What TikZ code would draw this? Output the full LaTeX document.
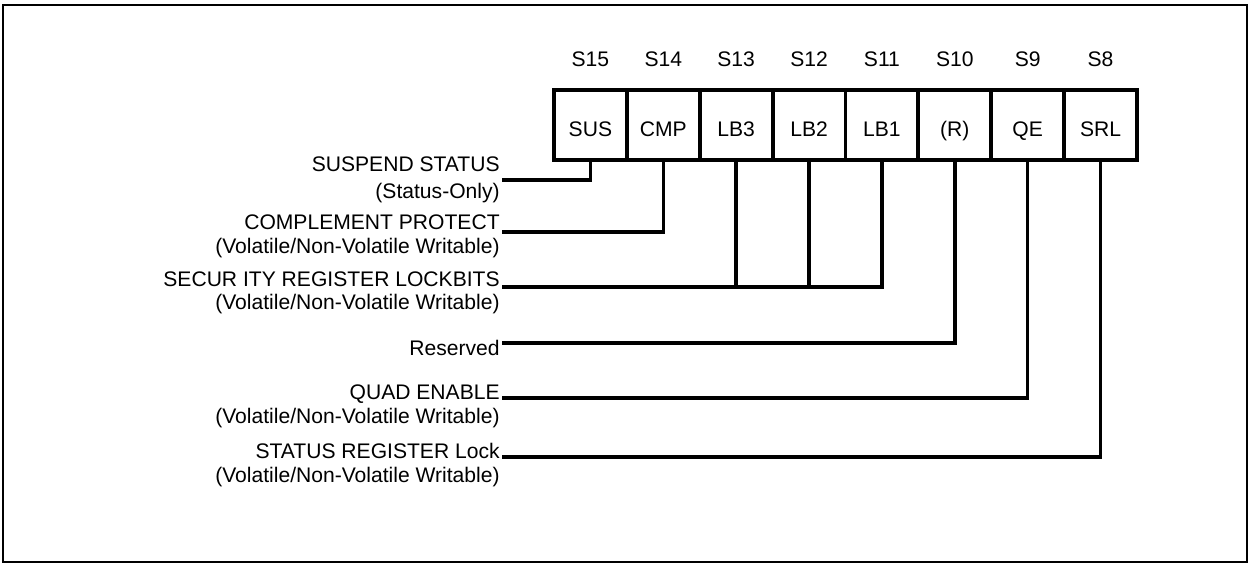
\documentclass[tikz,border=0pt]{standalone}
\usepackage{fontspec}
\setmainfont{Liberation Sans}
\begin{document}
\begin{tikzpicture}[x=0.02cm,y=-0.02cm,
  bitbox/.style={draw,line width=2.2pt,minimum width=1.458cm,minimum height=1.4cm,
    inner sep=0pt,text height=0.46cm,text depth=0pt,font=\fontsize{12}{14}\selectfont},
  bitnum/.style={inner sep=0pt,font=\fontsize{12}{14}\selectfont},
  lbl/.style={inner sep=0pt,anchor=base east,font=\fontsize{12}{14}\selectfont},
  wire/.style={line width=2pt}]
  \useasboundingbox (0,0) rectangle (1250,564);
  \draw[line width=0.9pt] (3,5) rectangle (1247,562);

  \foreach \name/\num [count=\i from 0] in {SUS/15,CMP/14,LB3/13,LB2/12,LB1/11,{(R)}/10,QE/9,SRL/8} {
    \node[bitbox] (b\num) at ({590.4+72.875*\i},125) {\name};
    \node[bitnum] (n\num) at ({590.4+72.875*\i},59) {S\num};
  }

  \coordinate (wSUS) at (502,180);
  \coordinate (wCMP) at (502,232);
  \coordinate (wLB) at (502,287);
  \coordinate (wR) at (502,343);
  \coordinate (wQE) at (502,398);
  \coordinate (wSRL) at (502,457);

  \node[lbl] (tSUS) at (500,172) {SUSPEND STATUS};
  \node[lbl] (sSUS) at (500,198) {(Status-Only)};
  \node[lbl] (tCMP) at (500,230) {COMPLEMENT PROTECT};
  \node[lbl] (sCMP) at (500,254) {(Volatile/Non-Volatile Writable)};
  \node[lbl] (tLB) at (500,286) {SECUR ITY REGISTER LOCKBITS};
  \node[lbl] (sLB) at (500,309) {(Volatile/Non-Volatile Writable)};
  \node[lbl] (tR) at (500,355) {Reserved};
  \node[lbl] (tQE) at (500,399) {QUAD ENABLE};
  \node[lbl] (sQE) at (500,423) {(Volatile/Non-Volatile Writable)};
  \node[lbl] (tSRL) at (500,458) {STATUS REGISTER Lock};
  \node[lbl] (sSRL) at (500,482) {(Volatile/Non-Volatile Writable)};

  \draw[wire] (b15.south) |- (wSUS);
  \draw[wire] (b14.south) |- (wCMP);
  \draw[wire] (b11.south) |- (wLB);
  \foreach \b in {13,12}
    \draw[wire] (b\b.south) -- (b\b.south |- wLB);
  \draw[wire] (b10.south) |- (wR);
  \draw[wire] (b9.south) |- (wQE);
  \draw[wire] (b8.south) |- (wSRL);
\end{tikzpicture}
\end{document}
